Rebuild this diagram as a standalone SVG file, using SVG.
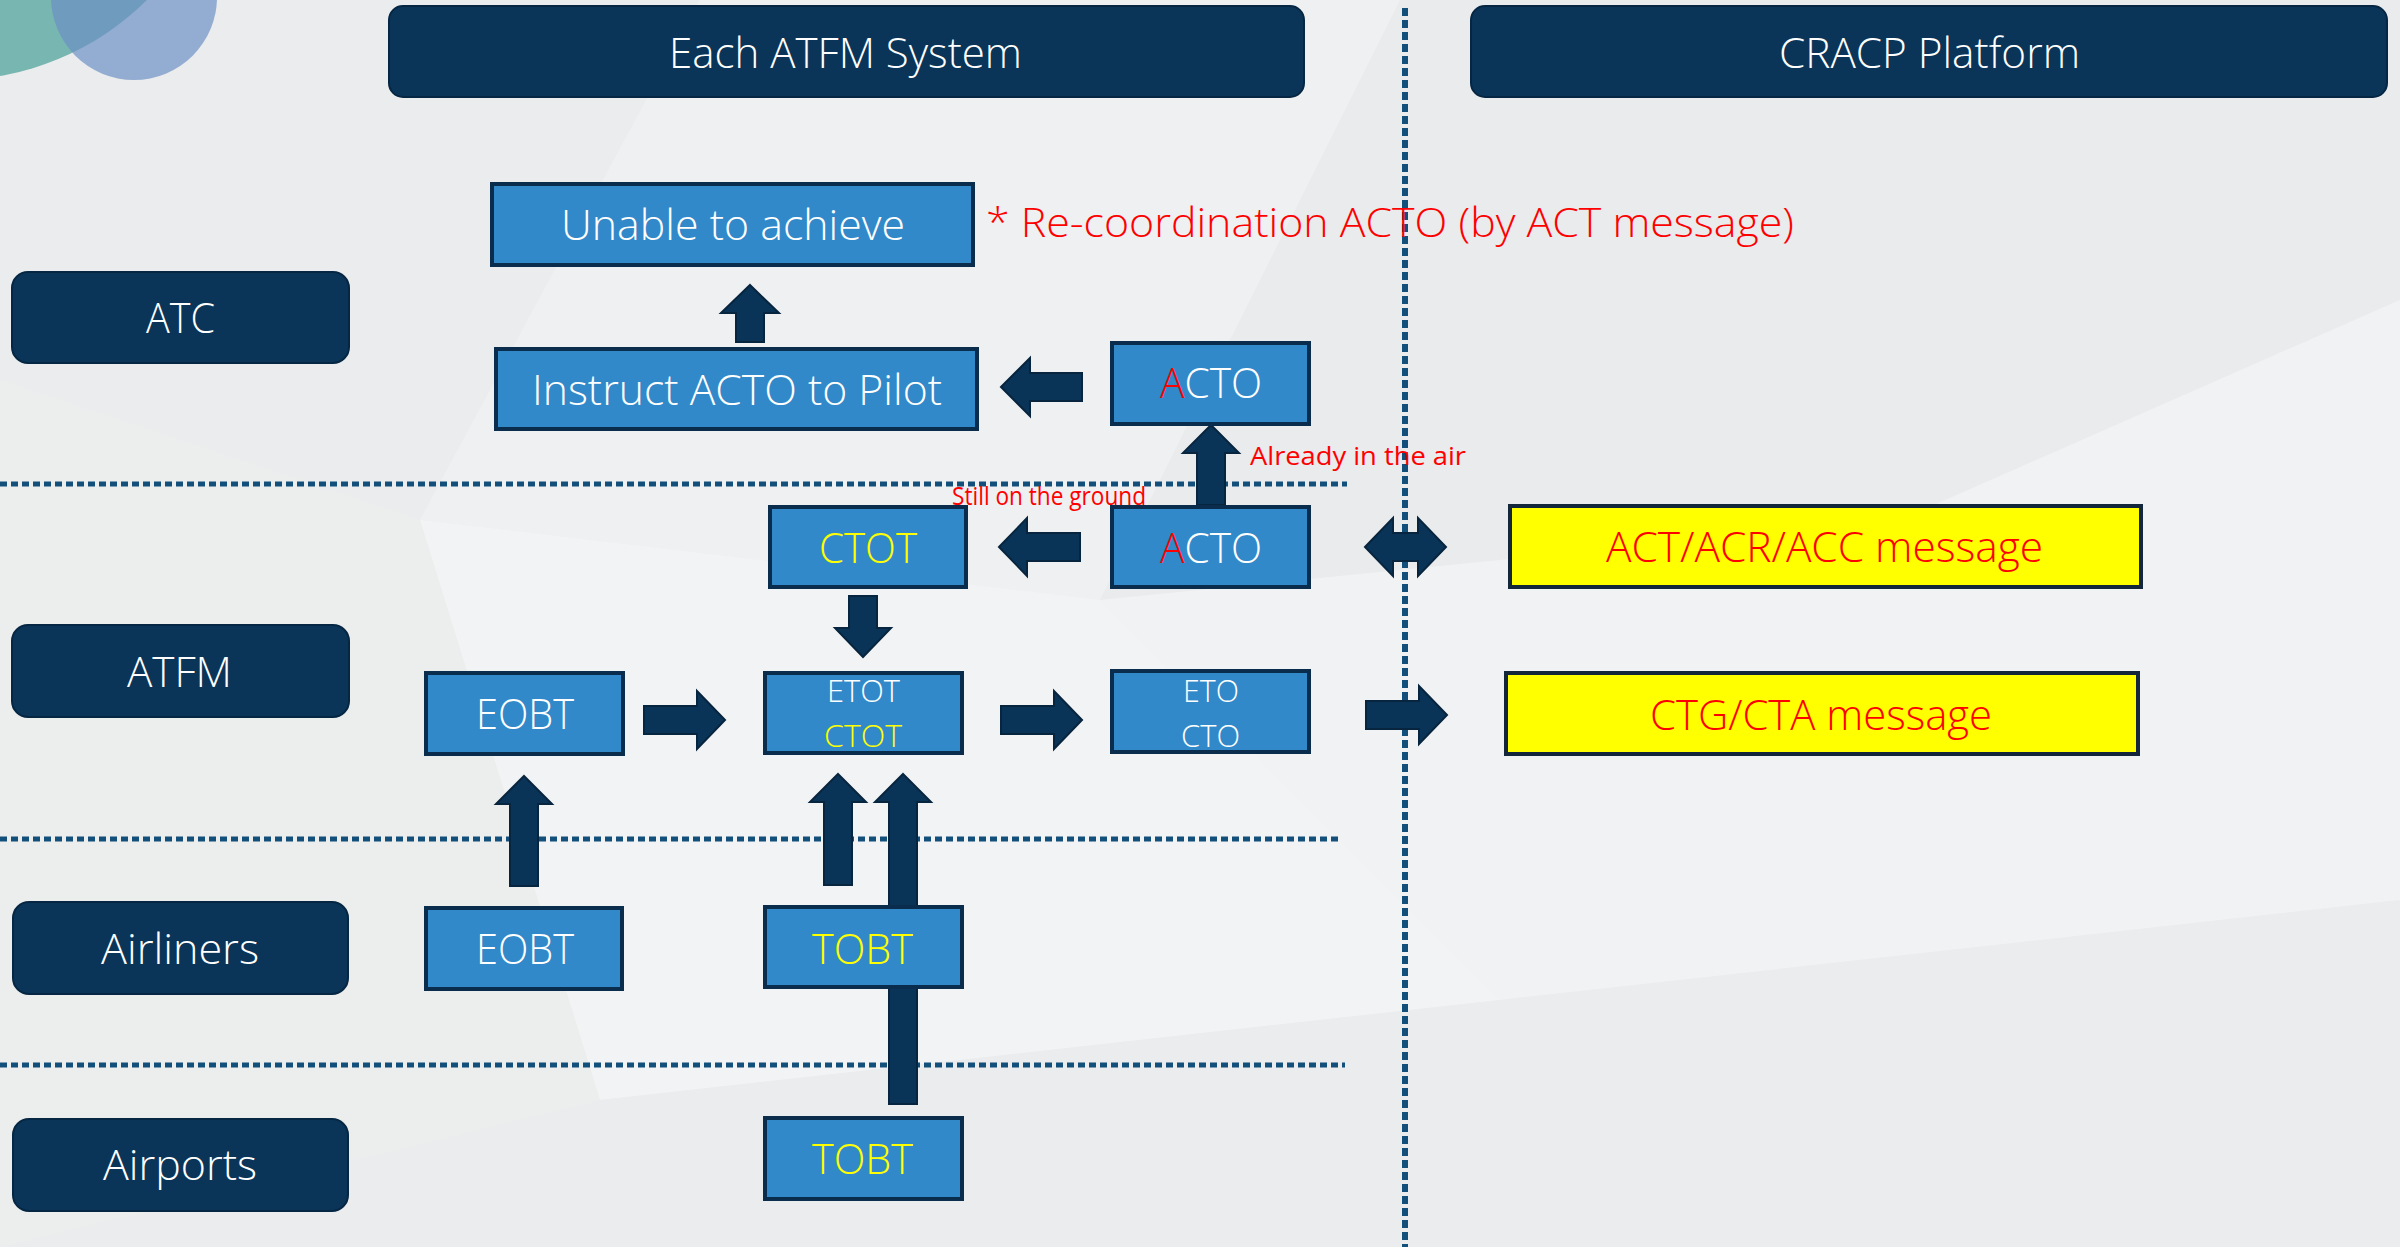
<svg xmlns="http://www.w3.org/2000/svg" width="2400" height="1247" viewBox="0 0 2400 1247">
<defs>
<style>
.t{font-family:"Open Sans","Noto Sans","Liberation Sans",sans-serif;font-weight:300}
.w{fill:#ffffff}
.y{fill:#ffff00}
.r{fill:#ff0000}
.hdr{fill:#0a3558;stroke:#062743;stroke-width:2}
.proc{fill:#3189c9;stroke:#0b2d4d;stroke-width:4}
.msg{fill:#ffff00;stroke:#13263a;stroke-width:4}
.arr{fill:#0a3457;stroke:#07253f;stroke-width:2}
.dot{stroke:#124f7a;stroke-width:5;stroke-dasharray:7 4;fill:none}
</style>
</defs>
<rect width="2400" height="1247" fill="#eeeff0"/>
<g id="background">
<polygon points="0,0 700,0 420,520 0,380" fill="#ebeced"/>
<polygon points="700,0 1400,0 1100,600 420,520" fill="#eff0f1"/>
<polygon points="1400,0 2400,0 2400,300 1900,520 1100,600" fill="#eaebec"/>
<polygon points="1100,600 1900,520 2400,300 2400,900 1500,1000" fill="#f1f2f3"/>
<polygon points="420,520 1100,600 1500,1000 600,1100" fill="#f2f3f4"/>
<polygon points="0,380 420,520 600,1100 0,1247" fill="#eceded"/>
<polygon points="600,1100 1500,1000 2400,900 2400,1247 0,1247" fill="#ebeced"/>
</g>
<g id="decor">
<circle cx="-47" cy="-195" r="275" fill="#78b7b1"/>
<circle cx="134" cy="-3" r="83" fill="#6b8fc3" fill-opacity="0.69"/>
</g>
<g id="separators">
<line class="dot" x1="0" y1="484" x2="1347" y2="484"/>
<line class="dot" x1="0" y1="839" x2="1342" y2="839"/>
<line class="dot" x1="0" y1="1065" x2="1345" y2="1065"/>
<line class="dot" x1="1405" y1="8" x2="1405" y2="1247" style="stroke-width:6;stroke-dasharray:8 4"/>
</g>
<g id="connectors">
<path class="arr" d="M750,285 L779,313 L764,313 L764,342 L736,342 L736,313 L721,313 Z"/>
<path class="arr" d="M1001,387 L1030,358 L1030,373 L1082,373 L1082,401 L1030,401 L1030,416 Z"/>
<path class="arr" d="M1211,425 L1239,453 L1225,453 L1225,505 L1197,505 L1197,453 L1183,453 Z"/>
<path class="arr" d="M999,547 L1027,518 L1027,533 L1080,533 L1080,561 L1027,561 L1027,576 Z"/>
<path class="arr" d="M1365,547 L1393,518 L1393,533 L1418,533 L1418,518 L1446,547 L1418,576 L1418,561 L1393,561 L1393,576 Z"/>
<path class="arr" d="M863,657 L891,628 L877,628 L877,596 L849,596 L849,628 L835,628 Z"/>
<path class="arr" d="M725,720 L697,691 L697,706 L644,706 L644,734 L697,734 L697,749 Z"/>
<path class="arr" d="M1082,720 L1054,691 L1054,706 L1001,706 L1001,734 L1054,734 L1054,749 Z"/>
<path class="arr" d="M1447,715 L1419,686 L1419,701 L1366,701 L1366,729 L1419,729 L1419,744 Z"/>
<path class="arr" d="M524,776 L552,804 L538,804 L538,886 L510,886 L510,804 L496,804 Z"/>
<path class="arr" d="M838,774 L866,802 L852,802 L852,885 L824,885 L824,802 L810,802 Z"/>
<path class="arr" d="M903,774 L931,802 L917,802 L917,1104 L889,1104 L889,802 L875,802 Z"/>
</g>
<g id="header-atfm">
<rect class="hdr" x="389" y="6" width="915" height="91" rx="14"/>
<text class="t w" x="669" y="68" font-size="42" textLength="353" lengthAdjust="spacingAndGlyphs">Each ATFM System</text>
</g>
<g id="header-cracp">
<rect class="hdr" x="1471" y="6" width="916" height="91" rx="14"/>
<text class="t w" x="1779" y="68" font-size="42" textLength="301" lengthAdjust="spacingAndGlyphs">CRACP Platform</text>
</g>
<g id="lane-atc">
<rect class="hdr" x="12" y="272" width="337" height="91" rx="16"/>
<text class="t w" x="146" y="333" font-size="42" textLength="69" lengthAdjust="spacingAndGlyphs">ATC</text>
</g>
<g id="lane-atfm">
<rect class="hdr" x="12" y="625" width="337" height="92" rx="16"/>
<text class="t w" x="127" y="687" font-size="42" textLength="105" lengthAdjust="spacingAndGlyphs">ATFM</text>
</g>
<g id="lane-airliners">
<rect class="hdr" x="13" y="902" width="335" height="92" rx="16"/>
<text class="t w" x="101" y="964" font-size="42" textLength="158" lengthAdjust="spacingAndGlyphs">Airliners</text>
</g>
<g id="lane-airports">
<rect class="hdr" x="13" y="1119" width="335" height="92" rx="16"/>
<text class="t w" x="103" y="1180" font-size="42" textLength="154" lengthAdjust="spacingAndGlyphs">Airports</text>
</g>
<g id="unable">
<rect class="proc" x="492" y="184" width="481" height="81"/>
<text class="t w" x="561" y="240" font-size="42" textLength="344" lengthAdjust="spacingAndGlyphs">Unable to achieve</text>
</g>
<g id="instruct">
<rect class="proc" x="496" y="349" width="481" height="80"/>
<text class="t w" x="532" y="405" font-size="42" textLength="410" lengthAdjust="spacingAndGlyphs">Instruct ACTO to Pilot</text>
</g>
<g id="acto-atc">
<rect class="proc" x="1112" y="343" width="197" height="81"/>
<text class="t w" x="1160" y="398" font-size="42" textLength="102" lengthAdjust="spacingAndGlyphs"><tspan class="r">A</tspan>CTO</text>
</g>
<g id="ctot">
<rect class="proc" x="770" y="507" width="196" height="80"/>
<text class="t y" x="819" y="563" font-size="42" textLength="98" lengthAdjust="spacingAndGlyphs">CTOT</text>
</g>
<g id="acto-atfm">
<rect class="proc" x="1112" y="507" width="197" height="80"/>
<text class="t w" x="1160" y="563" font-size="42" textLength="102" lengthAdjust="spacingAndGlyphs"><tspan class="r">A</tspan>CTO</text>
</g>
<g id="eobt-atfm">
<rect class="proc" x="426" y="673" width="197" height="81"/>
<text class="t w" x="476" y="729" font-size="42" textLength="98" lengthAdjust="spacingAndGlyphs">EOBT</text>
</g>
<g id="etot">
<rect class="proc" x="765" y="673" width="197" height="80"/>
<text class="t w" x="827" y="702" font-size="31" textLength="73" lengthAdjust="spacingAndGlyphs">ETOT</text>
<text class="t y" x="824" y="747" font-size="31" textLength="78" lengthAdjust="spacingAndGlyphs">CTOT</text>
</g>
<g id="eto">
<rect class="proc" x="1112" y="671" width="197" height="81"/>
<text class="t w" x="1183" y="702" font-size="31" textLength="56" lengthAdjust="spacingAndGlyphs">ETO</text>
<text class="t w" x="1181" y="747" font-size="31" textLength="59" lengthAdjust="spacingAndGlyphs">CTO</text>
</g>
<g id="eobt-airliners">
<rect class="proc" x="426" y="908" width="196" height="81"/>
<text class="t w" x="476" y="964" font-size="42" textLength="98" lengthAdjust="spacingAndGlyphs">EOBT</text>
</g>
<g id="tobt-airliners">
<rect class="proc" x="765" y="907" width="197" height="80"/>
<text class="t y" x="812" y="964" font-size="42" textLength="101" lengthAdjust="spacingAndGlyphs">TOBT</text>
</g>
<g id="tobt-airports">
<rect class="proc" x="765" y="1118" width="197" height="81"/>
<text class="t y" x="812" y="1174" font-size="42" textLength="101" lengthAdjust="spacingAndGlyphs">TOBT</text>
</g>
<g id="act-message">
<rect class="msg" x="1510" y="506" width="631" height="81"/>
<text class="t r" x="1606" y="562" font-size="42" textLength="437" lengthAdjust="spacingAndGlyphs">ACT/ACR/ACC message</text>
</g>
<g id="ctg-message">
<rect class="msg" x="1506" y="673" width="632" height="81"/>
<text class="t r" x="1650" y="730" font-size="42" textLength="342" lengthAdjust="spacingAndGlyphs">CTG/CTA message</text>
</g>
<g id="notes">
<text class="t r" x="986" y="237" font-size="41" textLength="808" lengthAdjust="spacingAndGlyphs">* Re-coordination ACTO (by ACT message)</text>
<text x="1250" y="465" font-family="Open Sans, Noto Sans, sans-serif" font-weight="400" fill="#ff0000" font-size="26" textLength="216" lengthAdjust="spacingAndGlyphs">Already in the air</text>
<text x="952" y="505" font-family="Open Sans, Noto Sans, sans-serif" font-weight="400" fill="#ff0000" font-size="26" textLength="194" lengthAdjust="spacingAndGlyphs">Still on the ground</text>
</g>
</svg>
